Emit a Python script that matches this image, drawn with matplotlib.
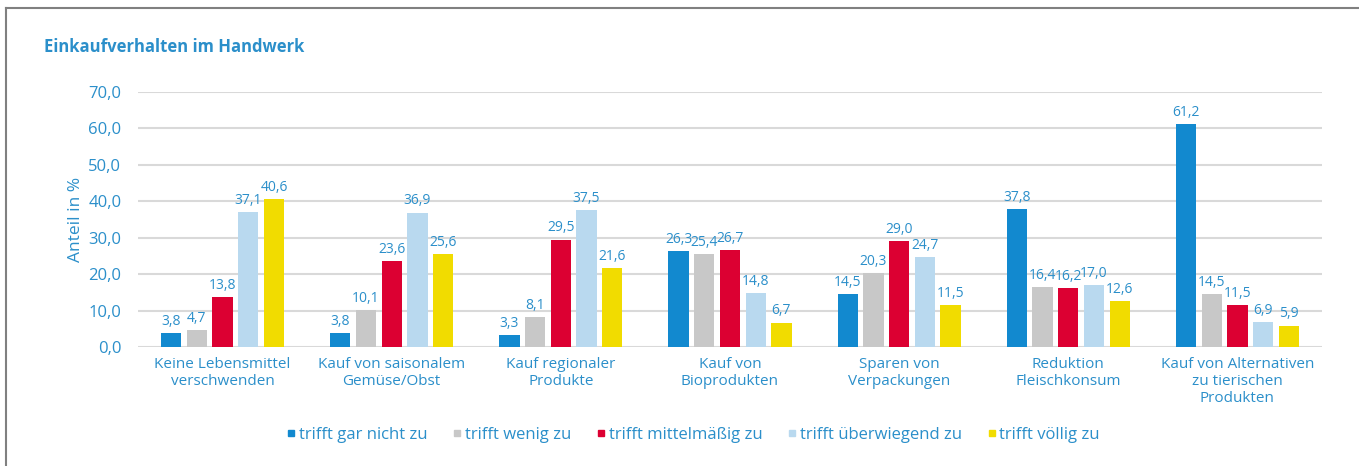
import numpy as np
import matplotlib.pyplot as plt
from matplotlib.lines import Line2D

plt.rcParams['font.family'] = ['Open Sans', 'DejaVu Sans']

categories = [
    "Keine Lebensmittel\nverschwenden",
    "Kauf von saisonalem\nGemüse/Obst",
    "Kauf regionaler\nProdukte",
    "Kauf von\nBioprodukten",
    "Sparen von\nVerpackungen",
    "Reduktion\nFleischkonsum",
    "Kauf von Alternativen\nzu tierischen\nProdukten",
]
series_names = ["trifft gar nicht zu", "trifft wenig zu", "trifft mittelmäßig zu",
                "trifft überwiegend zu", "trifft völlig zu"]
gar_nicht = [3.8, 3.8, 3.3, 26.3, 14.5, 37.8, 61.2]
wenig = [4.7, 10.1, 8.1, 25.4, 20.3, 16.4, 14.5]
mittel = [13.8, 23.6, 29.5, 26.7, 29.0, 16.2, 11.5]
ueberwiegend = [37.1, 36.9, 37.5, 14.8, 24.7, 17.0, 6.9]
voellig = [40.6, 25.6, 21.6, 6.7, 11.5, 12.6, 5.9]
series = [gar_nicht, wenig, mittel, ueberwiegend, voellig]
colors = ["#1289cf", "#c8c8c8", "#dc0032", "#b9d9ef", "#f1dc00"]
text_blue = "#2b8fca"

fig = plt.figure(figsize=(13.59, 4.66), dpi=100)
ax = fig.add_axes([138 / 1359, 1 - 347 / 466, 1184 / 1359, 255 / 466])

x = np.arange(len(categories))
pitch = 0.152
width = 0.12
for i, (vals, col) in enumerate(zip(series, colors)):
    pos = x + (i - 2) * pitch
    bars = ax.bar(pos, vals, width=width, color=col, zorder=2)
    for b, v in zip(bars, vals):
        ax.annotate(f"{v:.1f}".replace(".", ","), (b.get_x() + b.get_width() / 2, v),
                    xytext=(0, 3), textcoords="offset points", ha="center", va="bottom",
                    fontsize=10, color=text_blue)

ax.set_xlim(-0.5, len(categories) - 0.5)
ax.set_ylim(0, 70)
ax.set_yticks(np.arange(0, 71, 10))
ax.set_yticklabels([f"{v:.1f}".replace(".", ",") for v in np.arange(0, 71, 10)],
                   fontsize=12, color=text_blue)
ax.set_xticks(x)
ax.set_xticklabels(categories, fontsize=11, color=text_blue, linespacing=1.2)
ax.tick_params(axis="x", length=0, pad=7)
ax.tick_params(axis="y", length=0, pad=12)
ax.grid(axis="y", color="#d9d9d9", linewidth=1.5, zorder=0)
ax.set_axisbelow(True)
for s in ax.spines.values():
    s.set_visible(False)
ax.set_ylabel("Anteil in %", fontsize=12.5, color=text_blue, labelpad=3)

fig.text(44 / 1359, 1 - 47 / 466, "Einkaufverhalten im Handwerk", fontsize=12,
         fontweight="bold", color=text_blue, va="center", ha="left")

handles = [Line2D([0], [0], marker="s", linestyle="none", markersize=5,
                  markerfacecolor=c, markeredgecolor=c) for c in colors]
leg = fig.legend(handles, series_names, loc="center", ncol=5,
                 bbox_to_anchor=(694 / 1359, 1 - 435 / 466), frameon=False,
                 fontsize=12, handlelength=0.4, handletextpad=0.25, columnspacing=1.6)
for t in leg.get_texts():
    t.set_color(text_blue)

# frame lines (left and top) around the figure
fig.add_artist(Line2D([6 / 1359, 6 / 1359], [0, 1 - 8 / 466], color="#808080",
                      linewidth=1.5, transform=fig.transFigure))
fig.add_artist(Line2D([6 / 1359, 1], [1 - 8 / 466, 1 - 8 / 466], color="#808080",
                      linewidth=1.5, transform=fig.transFigure))

fig.savefig("out.png", dpi=100)
